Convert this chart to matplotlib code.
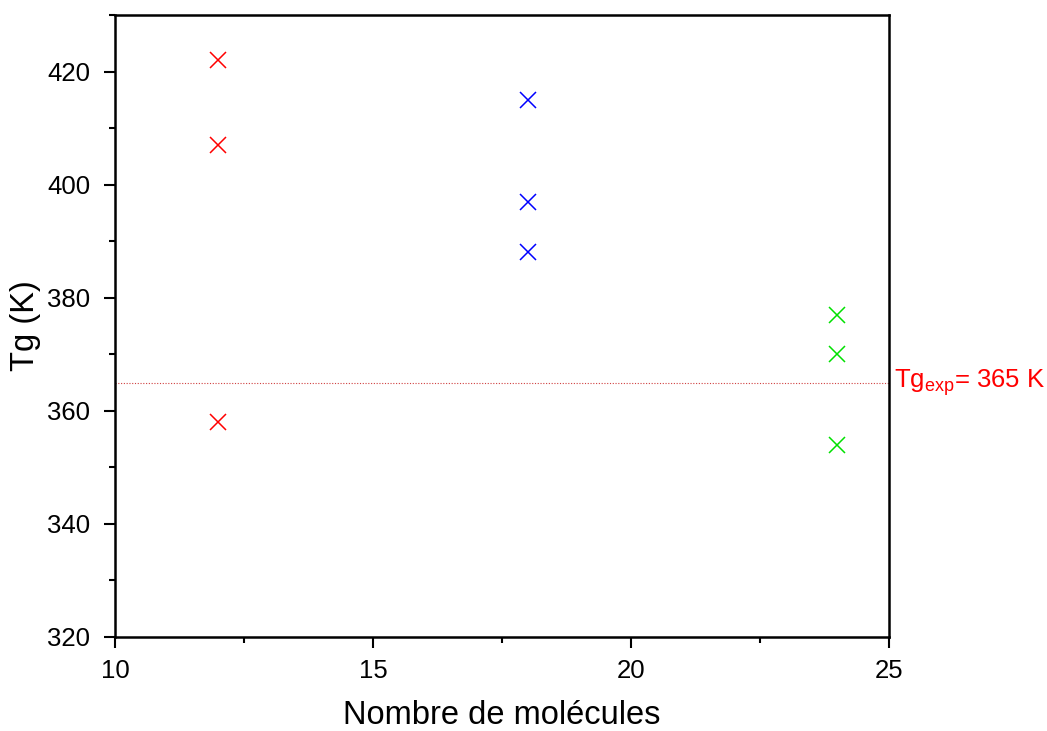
import matplotlib
matplotlib.use("Agg")
import matplotlib.pyplot as plt
from matplotlib.ticker import MultipleLocator

plt.rcParams['font.family'] = ['Liberation Sans', 'DejaVu Sans']

x_red = [12, 12, 12]
y_red = [422, 407, 358]
x_blue = [18, 18, 18]
y_blue = [415, 397, 388]
x_green = [24, 24, 24]
y_green = [377, 370, 354]
tg_exp = 365

fig = plt.figure(figsize=(10.47, 7.31), dpi=100)
ax = fig.add_axes([115/1047, 1-637/731, (889-115)/1047, (637-15)/731])

mk = dict(marker='x', linestyle='none', markersize=12, markeredgewidth=1.1)
ax.plot(x_red, y_red, color='#ff0000', **mk)
ax.plot(x_blue, y_blue, color='#0000ff', **mk)
ax.plot(x_green, y_green, color='#00e000', **mk)

ax.axhline(tg_exp, color='#d04040', linestyle=(0, (1, 1.5)), linewidth=0.8)
ax.text(1.006, tg_exp, r'Tg$_{\mathregular{exp}}$= 365 K', transform=ax.get_yaxis_transform(),
        color='#ff0000', fontsize=18.5, va='center', ha='left')

ax.set_xlim(10, 25)
ax.set_ylim(320, 430)
ax.xaxis.set_major_locator(MultipleLocator(5))
ax.xaxis.set_minor_locator(MultipleLocator(2.5))
ax.yaxis.set_major_locator(MultipleLocator(20))
ax.yaxis.set_minor_locator(MultipleLocator(10))
ax.tick_params(which='both', direction='out', width=1.5, labelsize=18.5, top=False, right=False)
ax.tick_params(which='major', length=8)
ax.tick_params(axis='x', which='major', pad=8)
ax.tick_params(axis='y', which='major', pad=10)
ax.tick_params(which='minor', length=4)
for s in ax.spines.values():
    s.set_linewidth(1.8)

ax.set_xlabel('Nombre de molécules', fontsize=23.5, labelpad=12)
ax.set_ylabel('Tg (K)', fontsize=23.5, labelpad=4)

fig.savefig('out.png', dpi=100)
